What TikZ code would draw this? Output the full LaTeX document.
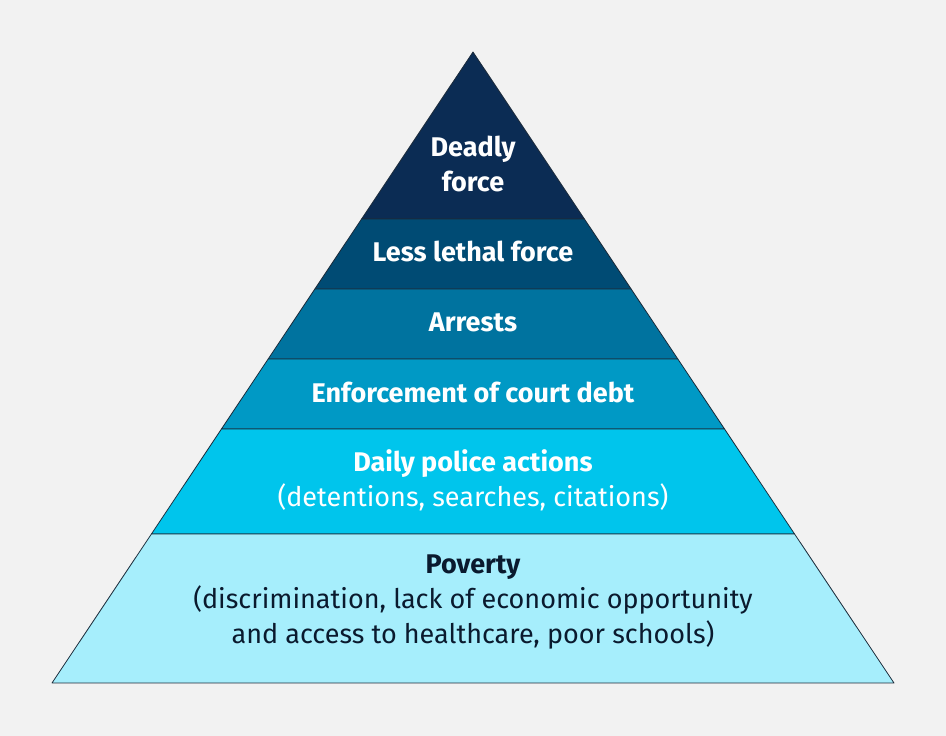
\documentclass[tikz,border=0pt]{standalone}
\usepackage{fontspec}
\setmainfont{Fira Sans}
\usetikzlibrary{calc}
\definecolor{bgcol}{HTML}{F2F2F2}
\definecolor{band1}{HTML}{0B2C54}
\definecolor{band2}{HTML}{004B74}
\definecolor{band3}{HTML}{00739F}
\definecolor{band4}{HTML}{0099C5}
\definecolor{band5}{HTML}{00C5EC}
\definecolor{band6}{HTML}{A6EEFC}
\definecolor{edgecol}{HTML}{1C2B3A}
\definecolor{darktext}{HTML}{0A1A2E}

\begin{document}
\begin{tikzpicture}[
  x=1pt, y=1pt,
  band/.style={draw=edgecol, line width=0.8pt, line join=round},
  label/.style={align=center, text=white, font=\fontsize{27}{35}\selectfont},
  darklabel/.style={label, text=darktext}]

  \fill[bgcol] (0,0) rectangle (946,736);
  \useasboundingbox (0,0) rectangle (946,736);

  \coordinate (apex) at (473,684);
  \coordinate (bl) at (52,53);
  \coordinate (br) at (894,53);

  \coordinate (l1) at ($(apex)!0.2647!(bl)$);
  \coordinate (r1) at ($(apex)!0.2647!(br)$);
  \coordinate (l2) at ($(apex)!0.3756!(bl)$);
  \coordinate (r2) at ($(apex)!0.3756!(br)$);
  \coordinate (l3) at ($(apex)!0.4865!(bl)$);
  \coordinate (r3) at ($(apex)!0.4865!(br)$);
  \coordinate (l4) at ($(apex)!0.5975!(bl)$);
  \coordinate (r4) at ($(apex)!0.5975!(br)$);
  \coordinate (l5) at ($(apex)!0.7639!(bl)$);
  \coordinate (r5) at ($(apex)!0.7639!(br)$);

  \filldraw[band, fill=band1] (apex) -- (r1) -- (l1) -- cycle;
  \filldraw[band, fill=band2] (l1) -- (r1) -- (r2) -- (l2) -- cycle;
  \filldraw[band, fill=band3] (l2) -- (r2) -- (r3) -- (l3) -- cycle;
  \filldraw[band, fill=band4] (l3) -- (r3) -- (r4) -- (l4) -- cycle;
  \filldraw[band, fill=band5] (l4) -- (r4) -- (r5) -- (l5) -- cycle;
  \filldraw[band, fill=band6] (l5) -- (r5) -- (br) -- (bl) -- cycle;

  \node[label] (deadly) at (473,572) {\bfseries Deadly\\\bfseries force};
  \node[label] (lesslethal) at (473,485) {\bfseries Less lethal force};
  \node[label] (arrests) at (473,414) {\bfseries Arrests};
  \node[label] (courtdebt) at (473,344) {\bfseries Enforcement of court debt};
  \node[label] (daily) at (473,256) {\bfseries Daily police actions\\(detentions, searches, citations)};
  \node[darklabel] (poverty) at (473,134) {\bfseries Poverty\\(discrimination, lack of economic opportunity\\and access to healthcare, poor schools)};
\end{tikzpicture}
\end{document}
